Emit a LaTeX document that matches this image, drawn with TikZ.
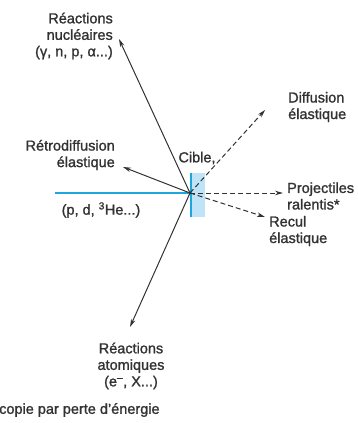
\documentclass[tikz,border=0pt]{standalone}
\usepackage{fontspec}
\setmainfont{Liberation Sans}
\newfontfamily\lblfont{Liberation Sans}[FakeBold=1.3]
\usetikzlibrary{arrows.meta}
\definecolor{ink}{RGB}{50,50,50}
\definecolor{beamc}{RGB}{30,165,220}
\definecolor{tgt}{RGB}{192,228,247}
\begin{document}
\begin{tikzpicture}[x=1pt,y=-1pt,
  lbl/.style={font=\lblfont\fontsize{14.5}{16.5}\selectfont, text=ink, inner sep=0pt},
  arr/.style={draw=ink, line width=1pt, -{Stealth[length=8pt,width=4.5pt]}},
  darr/.style={arr, dash pattern=on 5pt off 3pt},
  beamline/.style={draw=beamc, line width=1.5pt}]
\useasboundingbox (0,0) rectangle (358,423);
% target
\fill[tgt] (190,173) rectangle (205,217);
\coordinate (tgtTop) at (191,173);
\coordinate (tgtBot) at (191,217);
\draw[beamline] (tgtTop) -- (tgtBot);
\coordinate (C) at (190,193);
\coordinate (beamStart) at (55,193);
\draw[beamline] (beamStart) -- (C);
% labels
\node[lbl, align=right, anchor=east] (nuc) at (113,36) {Réactions\\nucléaires\\(γ, n, p, α...)};
\node[lbl, align=right, anchor=east] (retro) at (115,155) {Rétrodiffusion\\élastique};
\node[lbl, anchor=center] (cible) at (197,158) {Cible,};
\node[lbl, align=left, anchor=west] (diff) at (288,107) {Diffusion\\élastique};
\node[lbl, align=left, anchor=west] (proj) at (287,196) {Projectiles\\ralentis*};
\node[lbl, align=left, anchor=west] (recul) at (269,231) {Recul\\élastique};
\node[lbl, anchor=center] (beamlbl) at (101,210) {(p, d, \textsuperscript{3}He...)};
\node[lbl, align=center, anchor=center] (atom) at (131,366) {Réactions\\atomiques\\(e\textsuperscript{–}, X...)};
\node[lbl, anchor=west] (caption) at (-1,410) {copie par perte d’énergie};
% arrow tips
\coordinate (tNuc) at (119,39);
\coordinate (tRetro) at (123,167);
\coordinate (tAtom) at (130,327);
\coordinate (tDiff) at (265,110);
\coordinate (tProj) at (283,193);
\coordinate (tRecul) at (265,217);
% connectors
\draw[arr] (C) -- (tNuc);
\draw[arr] (C) -- (tRetro);
\draw[arr] (C) -- (tAtom);
\draw[darr] (C) -- (tDiff);
\draw[darr] (C) -- (tProj);
\draw[darr] (C) -- (tRecul);
\end{tikzpicture}
\end{document}
